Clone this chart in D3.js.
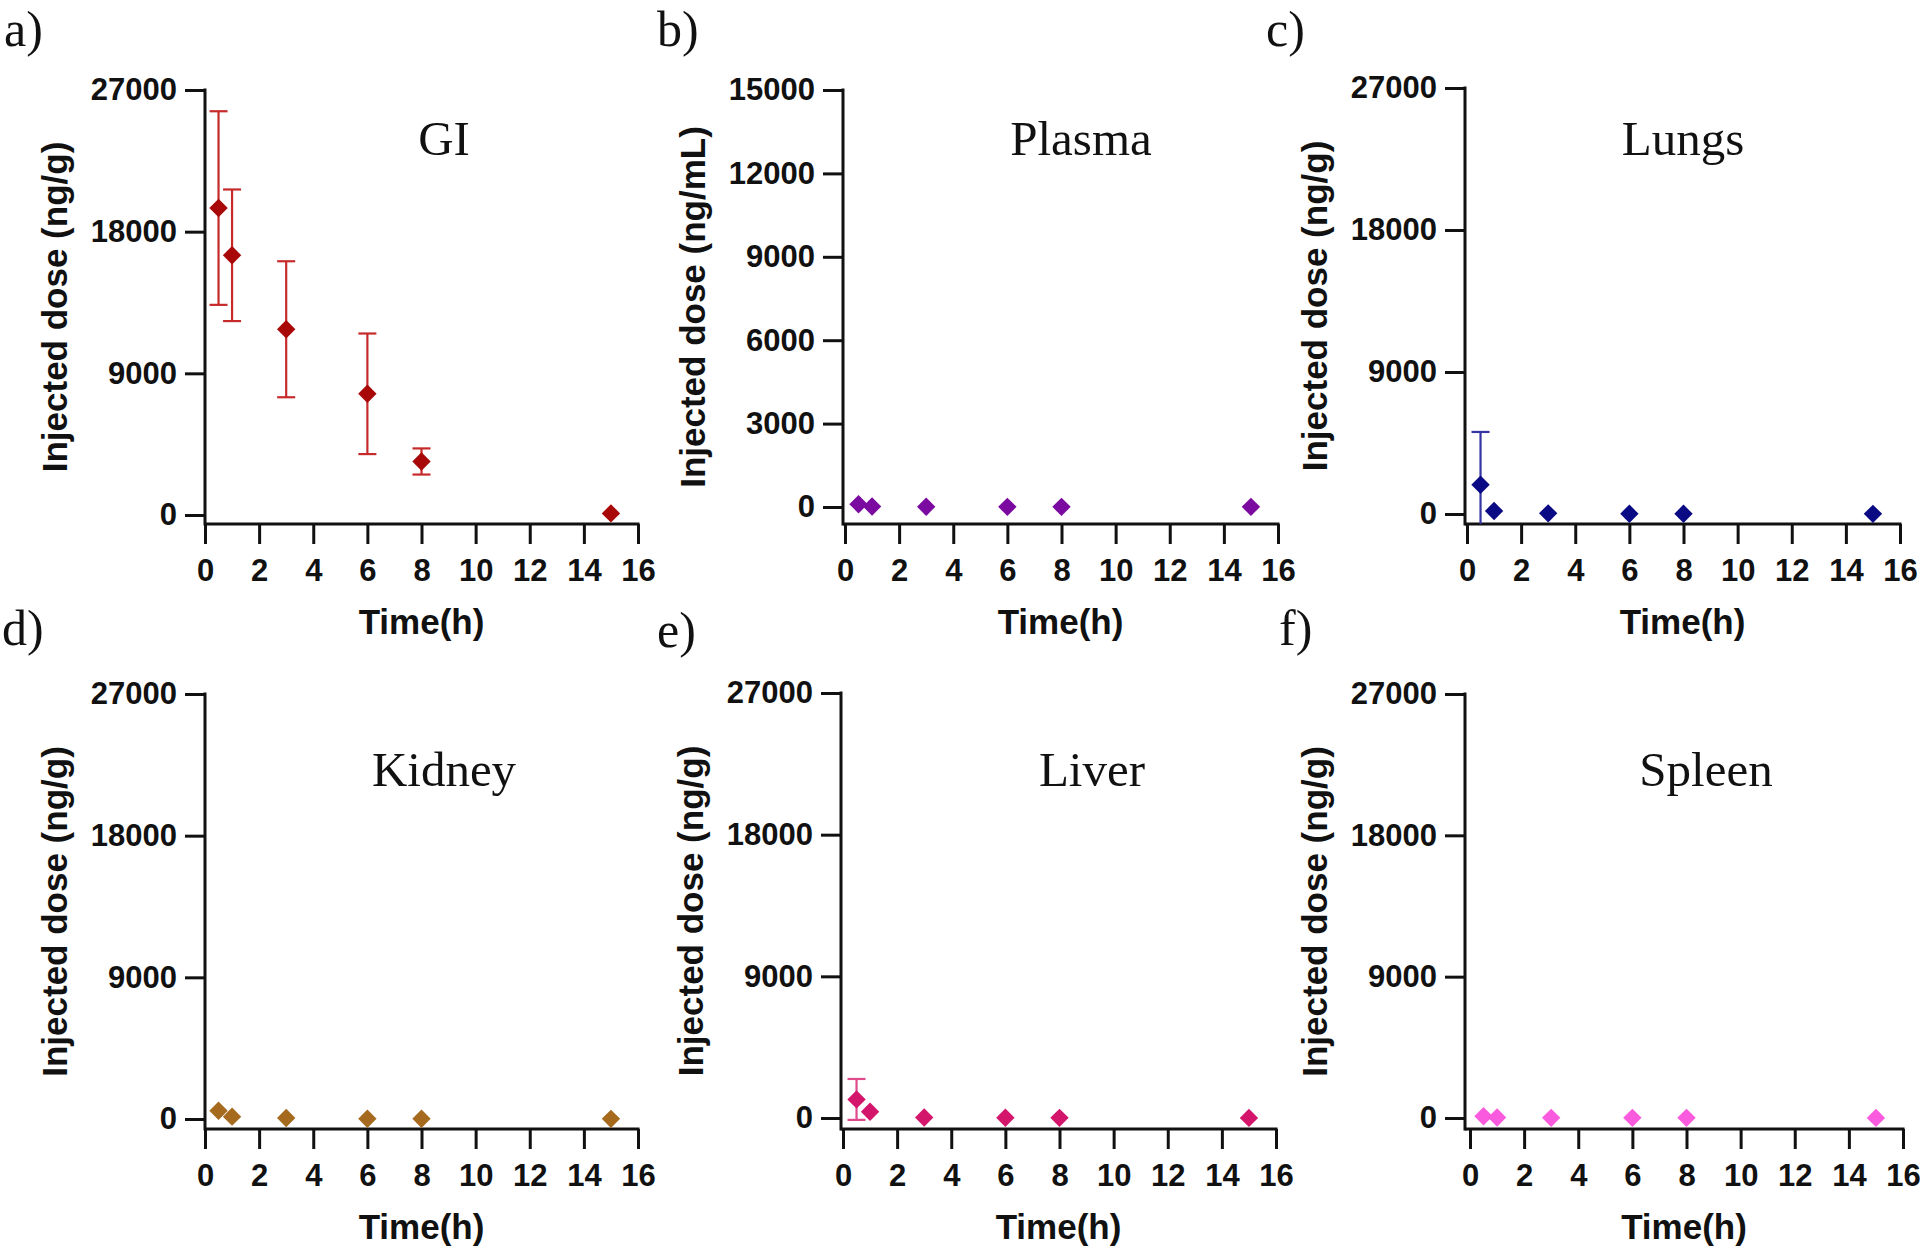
<!DOCTYPE html>
<html lang="en">
<head>
<meta charset="utf-8">
<title>Biodistribution</title>
<script src="https://cdn.jsdelivr.net/npm/d3@7"></script>
<style>
  body { margin: 0; background: #fff; }
  .tick text { font-family: "Liberation Sans", Arial, sans-serif; font-weight: bold; font-size: 31px; fill: #111; }
  .axtitle { font-family: "Liberation Sans", Arial, sans-serif; font-weight: bold; font-size: 35px; fill: #111; }
  .ptitle { font-family: "Liberation Serif", "Times New Roman", serif; font-size: 49px; fill: #111; }
  .letter { font-family: "Liberation Serif", "Times New Roman", serif; font-size: 50px; fill: #111; }
</style>
</head>
<body>
<script>
// data (mean, SD) per organ
var times = [0.5, 1, 3, 6, 8, 15];
var xTicks = [0, 2, 4, 6, 8, 10, 12, 14, 16];
var organTicks = [0, 9000, 18000, 27000];
var plasmaTicks = [0, 3000, 6000, 9000, 12000, 15000];

var giMean = [19500, 16500, 11800, 7700, 3400, 100];
var giSd = [6150, 4180, 4320, 3830, 830, 0];
var plasmaMean = [100, 20, 10, 5, 5, 5];
var plasmaSd = [0, 0, 0, 0, 0, 0];
var lungsMean = [1850, 190, 40, 20, 15, 10];
var lungsSd = [3350, 0, 0, 0, 0, 0];
var kidneyMean = [520, 150, 60, 20, 15, 10];
var kidneySd = [0, 0, 0, 0, 0, 0];
var liverMean = [1180, 400, 30, 15, 10, 5];
var liverSd = [1300, 0, 0, 0, 0, 0];
var spleenMean = [110, 30, 10, 10, 10, 5];
var spleenSd = [0, 0, 0, 0, 0, 0];

var panels = [
  {letter: "a)", name: "GI", mean: giMean, sd: giSd, ticks: organTicks, ylab: "Injected dose (ng/g)",
   col: "#a80808", err: "#c62a2a", x0: 205, xs: 205, top: 90, zero: 515, axisY: 524, tx: 444, ty: 155, lx: 4, ly: 46},
  {letter: "b)", name: "Plasma", mean: plasmaMean, sd: plasmaSd, ticks: plasmaTicks, ylab: "Injected dose (ng/mL)",
   col: "#7a0aa0", err: "#8a2ab0", x0: 843, xs: 845, top: 90, zero: 507, axisY: 524, tx: 1081, ty: 155, lx: 657, ly: 46},
  {letter: "c)", name: "Lungs", mean: lungsMean, sd: lungsSd, ticks: organTicks, ylab: "Injected dose (ng/g)",
   col: "#0a0a84", err: "#3434a4", x0: 1465, xs: 1467, top: 88, zero: 514, axisY: 524, tx: 1683, ty: 155, lx: 1266, ly: 46},
  {letter: "d)", name: "Kidney", mean: kidneyMean, sd: kidneySd, ticks: organTicks, ylab: "Injected dose (ng/g)",
   col: "#a66a1f", err: "#b8813c", x0: 205, xs: 205, top: 694, zero: 1119, axisY: 1129, tx: 444, ty: 786, lx: 2, ly: 645},
  {letter: "e)", name: "Liver", mean: liverMean, sd: liverSd, ticks: organTicks, ylab: "Injected dose (ng/g)",
   col: "#d3166c", err: "#de4a8c", x0: 841, xs: 843, top: 693, zero: 1118, axisY: 1129, tx: 1092, ty: 786, lx: 657, ly: 647},
  {letter: "f)", name: "Spleen", mean: spleenMean, sd: spleenSd, ticks: organTicks, ylab: "Injected dose (ng/g)",
   col: "#fa5ade", err: "#fa7ae4", x0: 1465, xs: 1470, top: 694, zero: 1118, axisY: 1129, tx: 1706, ty: 786, lx: 1279, ly: 645}
];

var W = 1920, H = 1246;
var svg = d3.select("body").append("svg").attr("width", W).attr("height", H);

var diamond = d3.symbol().type(d3.symbolSquare).size(13 * 13);

panels.forEach(function(p) {
  var x = d3.scaleLinear().domain([0, 16]).range([p.xs, p.xs + 433]);
  var y = d3.scaleLinear().domain([0, p.ticks[p.ticks.length - 1]]).range([p.zero, p.top]);
  var g = svg.append("g");

  // y axis ticks
  var ya = g.append("g").attr("transform", "translate(" + p.x0 + ",0)")
    .call(d3.axisLeft(y).tickValues(p.ticks).tickFormat(d3.format("d")).tickSize(20).tickPadding(8));
  ya.select(".domain").remove();
  ya.selectAll(".tick line").attr("stroke", "#111").attr("stroke-width", 3);

  // x axis ticks
  var xa = g.append("g").attr("transform", "translate(0," + p.axisY + ")")
    .call(d3.axisBottom(x).tickValues(xTicks).tickSize(20).tickPadding(15));
  xa.select(".domain").remove();
  xa.selectAll(".tick line").attr("stroke", "#111").attr("stroke-width", 3);

  // axis lines
  g.append("line").attr("x1", p.x0).attr("x2", p.x0).attr("y1", p.top - 1.5).attr("y2", p.axisY + 1.5)
    .attr("stroke", "#111").attr("stroke-width", 3);
  g.append("line").attr("x1", p.x0).attr("x2", x(16) + 1.5).attr("y1", p.axisY).attr("y2", p.axisY)
    .attr("stroke", "#111").attr("stroke-width", 3);

  // error bars
  var pts = times.map(function(t, i) { return {t: t, m: p.mean[i], s: p.sd[i]}; });
  var eb = g.selectAll("g.err").data(pts.filter(function(d) { return d.s > 0; })).enter().append("g");
  eb.append("line")
    .attr("x1", function(d) { return x(d.t); }).attr("x2", function(d) { return x(d.t); })
    .attr("y1", function(d) { return y(d.m + d.s); })
    .attr("y2", function(d) { return Math.min(y(d.m - d.s), p.axisY); })
    .attr("stroke", p.err).attr("stroke-width", 2.2);
  eb.append("line")
    .attr("x1", function(d) { return x(d.t) - 9; }).attr("x2", function(d) { return x(d.t) + 9; })
    .attr("y1", function(d) { return y(d.m + d.s); }).attr("y2", function(d) { return y(d.m + d.s); })
    .attr("stroke", p.err).attr("stroke-width", 2.2);
  eb.filter(function(d) { return y(d.m - d.s) < p.axisY; }).append("line")
    .attr("x1", function(d) { return x(d.t) - 9; }).attr("x2", function(d) { return x(d.t) + 9; })
    .attr("y1", function(d) { return y(d.m - d.s); }).attr("y2", function(d) { return y(d.m - d.s); })
    .attr("stroke", p.err).attr("stroke-width", 2.2);

  // diamond markers
  g.selectAll("path.pt").data(pts).enter().append("path")
    .attr("class", "pt")
    .attr("d", diamond)
    .attr("transform", function(d) { return "translate(" + x(d.t) + "," + y(d.m) + ") rotate(45)"; })
    .attr("fill", p.col);

  // titles
  g.append("text").attr("class", "axtitle").attr("text-anchor", "middle")
    .attr("x", (p.x0 + x(16)) / 2).attr("y", p.axisY + 110).text("Time(h)");
  g.append("text").attr("class", "axtitle").attr("text-anchor", "middle")
    .attr("transform", "translate(" + (p.x0 - 138) + "," + ((p.top + p.axisY) / 2) + ") rotate(-90)")
    .text(p.ylab);
  g.append("text").attr("class", "ptitle").attr("text-anchor", "middle")
    .attr("x", p.tx).attr("y", p.ty).text(p.name);
  g.append("text").attr("class", "letter").attr("x", p.lx).attr("y", p.ly).text(p.letter);
});
</script>
</body>
</html>
